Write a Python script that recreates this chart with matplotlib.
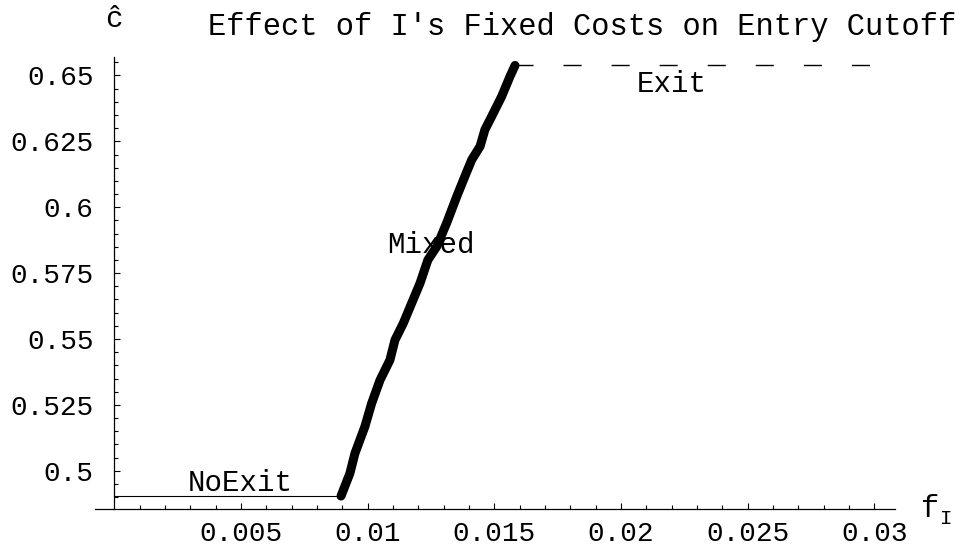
import numpy as np
from matplotlib import pyplot as plt
from matplotlib.ticker import FixedLocator, FuncFormatter

plt.rcParams['font.family'] = ['Liberation Mono', 'DejaVu Sans Mono']

# entry cutoff c-hat against the incumbent's fixed cost f_I
noexit_f = [0.0, 0.00895]
noexit_c = [0.4904, 0.4904]

mixed_f = [0.00895, 0.00930, 0.00950, 0.00989, 0.01016, 0.01049, 0.01088,
           0.01108, 0.01141, 0.01174, 0.01207, 0.01238, 0.01273, 0.01312,
           0.01352, 0.01384, 0.01411, 0.01444, 0.01463, 0.01490, 0.01529,
           0.01562, 0.01582]
mixed_c = [0.4904, 0.4990, 0.5066, 0.5167, 0.5256, 0.5344, 0.5420,
           0.5496, 0.5560, 0.5636, 0.5712, 0.5800, 0.5851, 0.5940,
           0.6041, 0.6117, 0.6180, 0.6231, 0.6294, 0.6345, 0.6420,
           0.6496, 0.6538]

exit_f = [0.01582, 0.0301]
exit_c = [0.6538, 0.6538]

x_major = [0.005, 0.01, 0.015, 0.02, 0.025, 0.03]
x_labels = ['0.005', '0.01', '0.015', '0.02', '0.025', '0.03']
y_major = [0.5, 0.525, 0.55, 0.575, 0.6, 0.625, 0.65]
y_labels = ['0.5', '0.525', '0.55', '0.575', '0.6', '0.625', '0.65']

fig = plt.figure(figsize=(9.64, 5.51), dpi=100)
ax = fig.add_axes([95/964, 42.3/551, 800/964, 451.7/551])

ax.plot(noexit_f, noexit_c, color='black', lw=0.8)
ax.plot(mixed_f, mixed_c, color='black', lw=6.5,
        solid_capstyle='round', solid_joinstyle='round')
ax.plot(exit_f, exit_c, color='black', lw=1.0, linestyle=(0, (13, 21.6)))

ax.set_xlim(-0.000762, 0.03082)
ax.set_ylim(0.4856, 0.657)

for s in ['top', 'right']:
    ax.spines[s].set_visible(False)
ax.spines['left'].set_position(('data', 0))
ax.spines['left'].set_linewidth(0.9)
ax.spines['bottom'].set_linewidth(0.9)

ax.xaxis.set_major_locator(FixedLocator(x_major))
ax.xaxis.set_minor_locator(FixedLocator(
    [i*0.001 for i in range(1, 31) if i % 5 != 0]))
ax.yaxis.set_major_locator(FixedLocator(y_major))
ax.yaxis.set_minor_locator(FixedLocator(
    [0.49 + i*0.005 for i in range(0, 34) if i % 5 != 2]))
ax.xaxis.set_major_formatter(FuncFormatter(lambda v, p: x_labels[p]))
ax.yaxis.set_major_formatter(FuncFormatter(lambda v, p: y_labels[p]))

ax.tick_params(which='both', direction='in', width=0.8, labelsize=20)
ax.tick_params(which='major', length=4.3)
ax.tick_params(which='minor', length=2.9)
ax.tick_params(axis='x', pad=9)
ax.tick_params(axis='y', pad=15)

ax.text(0.00496, 0.4924, 'NoExit', ha='center', va='baseline', fontsize=21)
ax.text(0.01250, 0.5828, 'Mixed', ha='center', va='baseline', fontsize=21)
ax.text(0.02201, 0.6438, 'Exit', ha='center', va='baseline', fontsize=21)

fig.text(208/964, 1 - 35/551, "Effect of I's Fixed Costs on Entry Cutoff",
         ha='left', va='baseline', fontsize=22)
fig.text(114/964, 1 - 27/551, '\u0109', ha='center', va='baseline', fontsize=21)
fig.text(921/964, 1 - 517/551, 'f', ha='left', va='baseline', fontsize=22)
fig.text(940/964, 1 - 524/551, 'I', ha='left', va='baseline', fontsize=15)

fig.savefig('out.png', dpi=100)
